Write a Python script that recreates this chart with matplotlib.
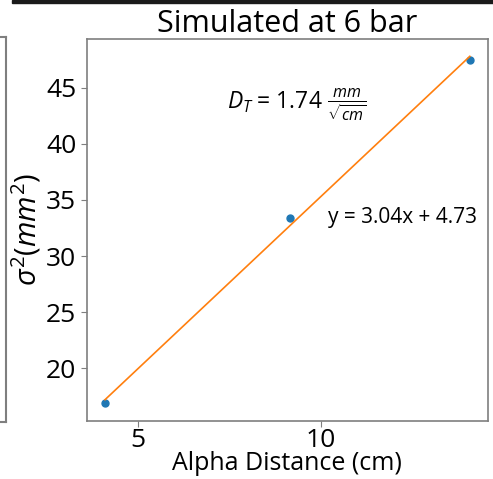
import numpy as np
import matplotlib.pyplot as plt
from matplotlib.patches import Rectangle

plt.rcParams['font.family'] = ['Open Sans', 'DejaVu Sans']
plt.rcParams['mathtext.fontset'] = 'custom'
plt.rcParams['mathtext.rm'] = 'Open Sans'
plt.rcParams['mathtext.it'] = 'Open Sans:italic'
plt.rcParams['mathtext.bf'] = 'Open Sans:bold'

# ==================================
# DATA
# ==================================

alpha_distance = [4.09, 9.15, 14.07]
sigma_sq = [16.86, 33.35, 47.5]

fit_label = "y = 3.04x + 4.73"
dt_label = r"$D_T$ = 1.74 $\frac{mm}{\sqrt{cm}}$"

# ==================================
# FIGURE
# ==================================

fig = plt.figure(figsize=(4.93, 4.79), dpi=100)

spine_color = "#7f7f7f"

# neighbour axes on the left, only its right edge shows
ax_left = fig.add_axes([-0.5, 0.12, 0.5 + 5.7 / 493, 0.9234 - 0.12])
ax_left.set_xticks([])
ax_left.set_yticks([])
for s in ax_left.spines.values():
    s.set_color(spine_color)
    s.set_linewidth(1.5)

# bar from the row above
fig.patches.append(Rectangle((12 / 493, 1 - 3 / 479), 1, 3 / 479,
                             transform=fig.transFigure, color="#1a1a1a"))

ax = fig.add_axes([0.176, 0.122, 0.990 - 0.176, 0.9186 - 0.122])

x = np.array(alpha_distance)
y = np.array(sigma_sq)
m, b = np.polyfit(x, y, 1)

ax.plot(x, y, "o", color="#1f77b4", markersize=5)
ax.plot(x, m * x + b, color="#ff7f0e", linewidth=1.2)

ax.set_title("Simulated at 6 bar", fontsize=22, pad=5)
ax.set_xlabel("Alpha Distance (cm)", fontsize=18, labelpad=-1)
ax.set_ylabel(r"$\sigma^2(mm^2)$", fontsize=21)
ax.yaxis.labelpad = 2

ax.text(0.60, 0.531, fit_label, transform=ax.transAxes, ha="left",
        va="center", fontsize=15)
ax.text(0.35, 0.827, dt_label, transform=ax.transAxes, ha="left",
        va="center", fontsize=16.5)

ax.set_xticks([5, 10])
ax.set_yticks([20, 25, 30, 35, 40, 45])
ax.tick_params(labelsize=19, color=spine_color, length=4)
ax.tick_params(axis="x", pad=1)
for s in ax.spines.values():
    s.set_color(spine_color)
    s.set_linewidth(1.2)

plt.savefig("out.png", dpi=100)
